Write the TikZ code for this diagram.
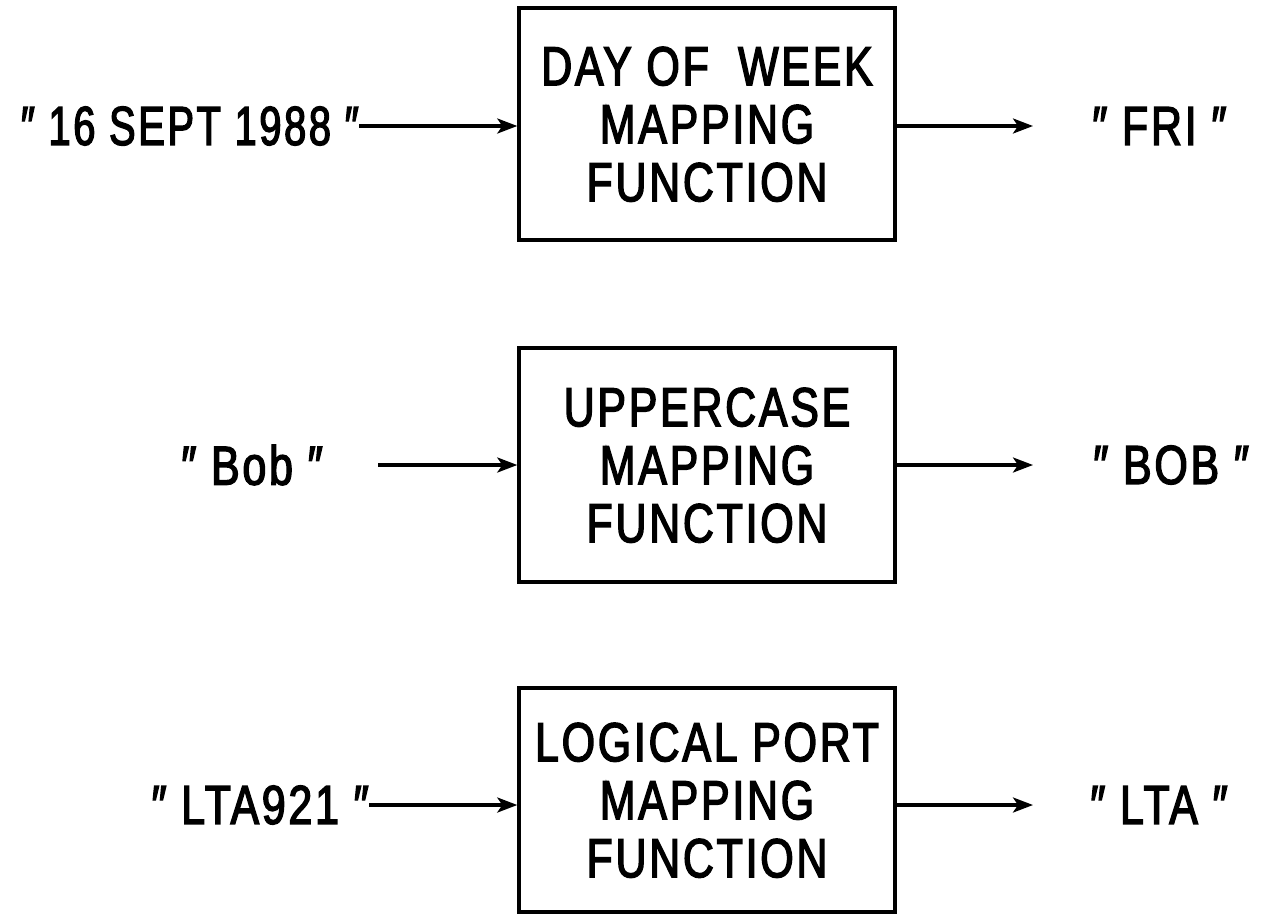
\documentclass[tikz,border=0pt]{standalone}
\usepackage{fontspec}
\setmainfont{Liberation Sans}[FakeStretch=0.78, FakeBold=2.5, LetterSpace=5]
\usetikzlibrary{arrows.meta}
\begin{document}
\begin{tikzpicture}[x=1pt,y=-1pt,
  font=\fontsize{55}{58}\selectfont,
  fnbox/.style={draw, line width=3.4pt, minimum width=376pt, inner sep=0pt, align=center, text depth=0pt},
  inlabel/.style={inner sep=0pt, anchor=east},
  outlabel/.style={inner sep=0pt, anchor=west},
  flow/.style={line width=3.2pt, -{Stealth[length=20pt,width=15pt,inset=5pt]}}]
\useasboundingbox (0,0) rectangle (1265,914);

% mapping function blocks
\node[fnbox, minimum height=232pt] (f1) at (707,124) {DAY OF\ \ WEEK\\MAPPING\\FUNCTION};
\node[fnbox, minimum height=234pt] (f2) at (707,465) {UPPERCASE\\MAPPING\\FUNCTION};
\node[fnbox, minimum height=224pt] (f3) at (707,800) {LOGICAL PORT\\MAPPING\\FUNCTION};

% inputs
\node[inlabel, xscale=0.93, transform shape] (in1) at (359,126) {″ 16 SEPT 1988 ″};
\node[inlabel] (in2) at (323,465) {″ Bob ″};
\node[inlabel] (in3) at (369,805) {″ LTA921 ″};

% outputs
\node[outlabel] (out1) at (1092,126) {″ FRI ″};
\node[outlabel] (out2) at (1093,465) {″ BOB ″};
\node[outlabel] (out3) at (1090,805) {″ LTA ″};

% connectors
\draw[flow] (in1.east) -- (f1.west |- in1.east);
\draw[flow, shorten <=55pt] (in2.east) -- (f2.west);
\draw[flow] (in3.east) -- (f3.west |- in3.east);
\draw[flow, shorten >=59pt] (f1.east |- out1.west) -- (out1.west);
\draw[flow, shorten >=60pt] (f2.east) -- (out2.west);
\draw[flow, shorten >=57pt] (f3.east |- out3.west) -- (out3.west);
\end{tikzpicture}
\end{document}
